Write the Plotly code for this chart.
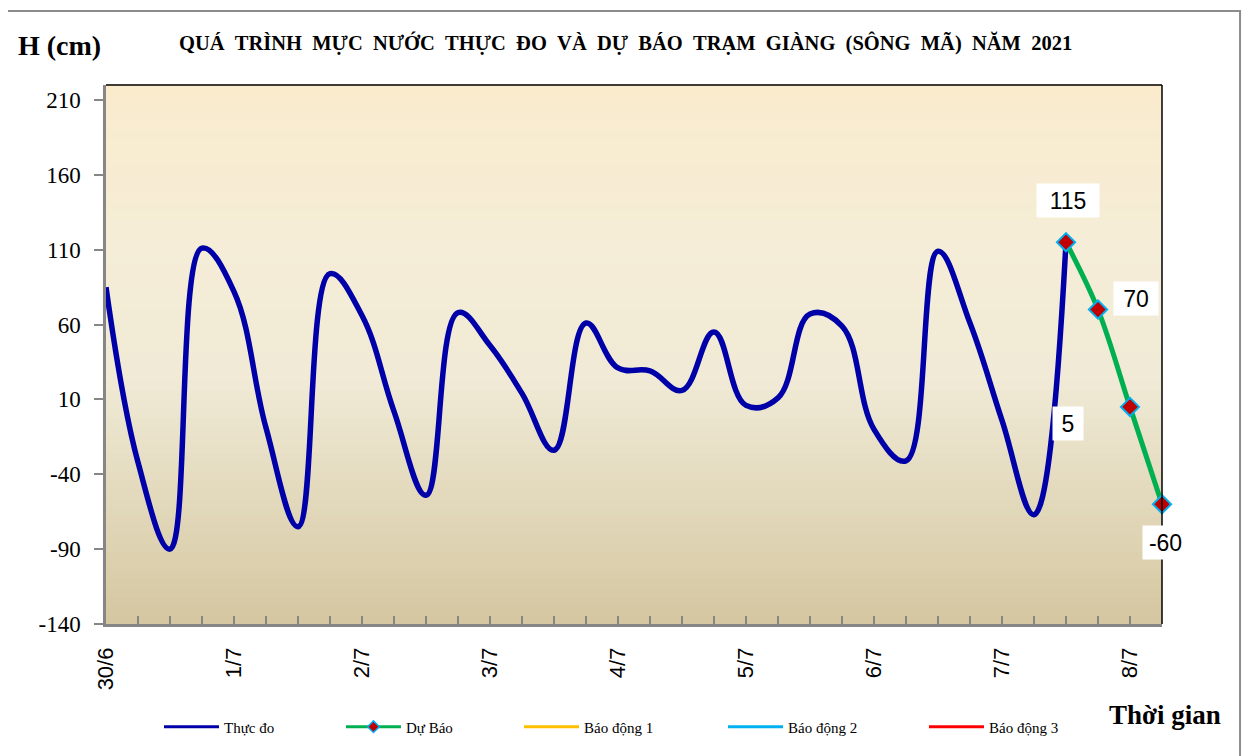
import plotly.graph_objects as go

# ---------------- data ----------------
day_labels = ["30/6", "1/7", "2/7", "3/7", "4/7", "5/7", "6/7", "7/7", "8/7"]
steps_per_day = 4  # 6-hourly observations

thuc_do = [85, -32, -90, 111, 82, -9, -75, 94, 66, 2,
           -54, 68, 46, 14, -24, 61, 31, 29, 16, 55,
           6, 11, 67, 59, -10, -31, 109, 61, -4, -67,
           115, None, None, None]
du_bao = [None] * 30 + [115, 70, 5, -60]

y_ticks = [-140, -90, -40, 10, 60, 110, 160, 210]
y_tick_text = ["-140", "-90", "-40", "10", "60", "110", "160", "210"]
y_range = [-140, 220]

title_words = ["QUÁ", "TRÌNH", "MỰC", "NƯỚC", "THỰC", "ĐO", "VÀ", "DỰ", "BÁO",
               "TRẠM", "GIÀNG", "(SÔNG", "MÃ)", "NĂM", "2021"]

x_idx = list(range(len(thuc_do)))
label_pos = [i * steps_per_day for i in range(len(day_labels))]

# label box offsets / widths (pixels) for forecast values
label_shift = {30: (2, -42), 31: (38, -11), 32: (-62, 17), 33: (3.5, 38.5)}
label_box_w = {30: 56, 31: 38, 32: 24, 33: 39}

SERIF = "Liberation Serif, Times New Roman, serif"
SANS = "Liberation Sans, Arial, sans-serif"

fig = go.Figure()

fig.add_trace(go.Scatter(
    x=x_idx, y=thuc_do, mode="lines", name="Thực đo", showlegend=False,
    line=dict(color="#0000A8", width=5.5, shape="spline", smoothing=1.15),
    connectgaps=False,
))
fig.add_trace(go.Scatter(
    x=x_idx, y=du_bao, mode="lines+markers", name="Dự Báo", showlegend=False,
    line=dict(color="#00B050", width=5, shape="spline", smoothing=1.0),
    marker=dict(symbol="diamond", size=14, color="#C00000",
                line=dict(color="#00B0F0", width=2)),
    cliponaxis=False,
))

# legend entries (thin samples like the original legend), each in its own legend box
legend_items = [
    ("Thực đo", "#0000A8", False),
    ("Dự Báo", "#00B050", True),
    ("Báo động 1", "#FFC000", False),
    ("Báo động 2", "#00B0F0", False),
    ("Báo động 3", "#FF0000", False),
]
legend_x = [0.0502, 0.2225, 0.3911, 0.5843, 0.7746]
legend_layout = {}
for k, (nm, col, mk) in enumerate(legend_items):
    lname = "legend" if k == 0 else "legend%d" % (k + 1)
    tr = dict(x=[x_idx[0]], y=[None], name=nm, legend=lname,
              line=dict(color=col, width=3), mode="lines")
    if mk:
        tr["mode"] = "lines+markers"
        tr["marker"] = dict(symbol="diamond", size=9, color="#C00000",
                            line=dict(color="#00B0F0", width=1.5))
    fig.add_trace(go.Scatter(**tr))
    legend_layout[lname] = dict(orientation="h", x=legend_x[k], xanchor="left", y=-0.191,
                                yanchor="middle", itemwidth=55, bgcolor="rgba(0,0,0,0)",
                                font=dict(family=SERIF, size=15, color="black"))

# ---------------- background gradient (style) ----------------
stops = [(0.0, (212, 198, 160)), (0.22, (226, 216, 186)), (0.45, (240, 234, 214)),
         (0.7, (245, 237, 215)), (1.0, (250, 235, 205))]


def col_at(f):
    for (f0, c0), (f1, c1) in zip(stops[:-1], stops[1:]):
        if f0 <= f <= f1:
            t = (f - f0) / (f1 - f0)
            return "rgb(%d,%d,%d)" % tuple(round(a + (b - a) * t) for a, b in zip(c0, c1))
    return "rgb(%d,%d,%d)" % stops[-1][1]


shapes = []
nb = 60
for k in range(nb):
    f0, f1 = k / nb, (k + 1) / nb
    shapes.append(dict(type="rect", xref="paper", yref="paper", x0=0, x1=1, y0=f0, y1=f1 + 0.002,
                       fillcolor=col_at((f0 + f1) / 2), line=dict(width=0), layer="below"))
# plot area top/right border
shapes.append(dict(type="line", xref="paper", yref="paper", x0=0, x1=1, y0=1, y1=1,
                   line=dict(color="#000000", width=1.5)))
shapes.append(dict(type="line", xref="paper", yref="paper", x0=1, x1=1, y0=0, y1=1,
                   line=dict(color="#000000", width=1.5)))
# chart outer border
shapes.append(dict(type="rect", xref="paper", yref="paper", x0=-0.0947, x1=1.0739,
                   y0=-0.26, y1=1.1373, line=dict(color="#8C8C8C", width=2)))

title_text = "&nbsp;&nbsp;".join(title_words)
annotations = [
    dict(text="<b>" + title_text + "</b>",
         xref="paper", yref="paper", x=0.4915, y=1.078, showarrow=False,
         font=dict(family=SERIF, size=20.5, color="black"), xanchor="center", yanchor="middle"),
    dict(text="<b>H (cm)</b>", xref="paper", yref="paper", x=-0.0852, y=1.0725, showarrow=False,
         font=dict(family=SERIF, size=28, color="black"), xanchor="left", yanchor="middle"),
    dict(text="<b>Thời gian</b>", xref="paper", yref="paper", x=1.0028, y=-0.1688, showarrow=False,
         font=dict(family=SERIF, size=27, color="black"), xanchor="center", yanchor="middle"),
]
for i, v in enumerate(du_bao):
    if v is None:
        continue
    dx, dy = label_shift[i]
    annotations.append(dict(x=x_idx[i], y=v, xref="x", yref="y", text=str(v), showarrow=False,
                            xshift=dx, yshift=-dy, bgcolor="white", borderpad=3,
                            width=label_box_w[i], height=27, align="center",
                            font=dict(family=SANS, size=23, color="black")))

fig.update_layout(
    width=1243, height=748,
    margin=dict(l=98, r=89, t=77, b=132),
    paper_bgcolor="white", plot_bgcolor="rgba(0,0,0,0)",
    shapes=shapes, annotations=annotations,
    showlegend=True,
    **legend_layout,
)
fig.update_xaxes(
    range=[0, 33], tickmode="array", tickvals=label_pos, ticktext=day_labels,
    tickangle=-90, ticks="inside", ticklen=8, tickcolor="#868686", tickwidth=1.5,
    minor=dict(dtick=1, tick0=0, ticks="inside", ticklen=8, tickcolor="#868686", tickwidth=1.5),
    showline=True, linecolor="#868686", linewidth=2.5, showgrid=False, zeroline=False,
    tickfont=dict(family=SANS, size=22, color="black"), ticklabelstandoff=12,
    automargin=False,
)
fig.update_yaxes(
    range=y_range, tickmode="array", tickvals=y_ticks, ticktext=y_tick_text,
    ticks="outside", ticklen=9, tickcolor="#868686", tickwidth=1.5,
    showline=True, linecolor="#868686", linewidth=2.5, showgrid=False, zeroline=False,
    tickfont=dict(family=SERIF, size=23, color="black"), ticklabelstandoff=9,
    automargin=False,
)

fig.write_html("out.html")
